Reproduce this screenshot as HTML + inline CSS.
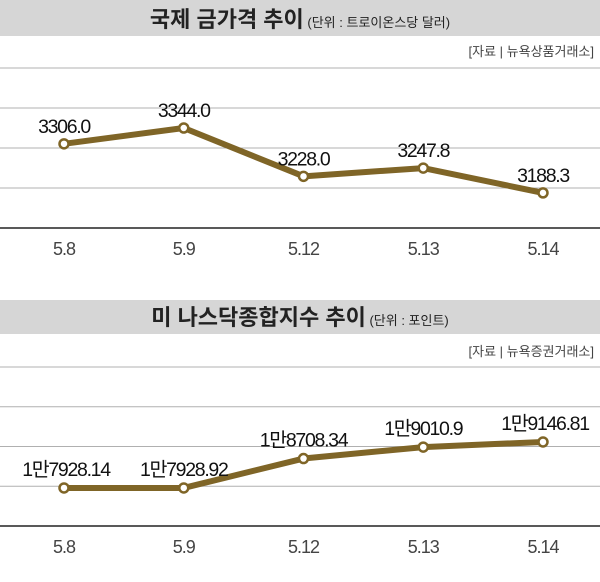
<!DOCTYPE html>
<html><head><meta charset="utf-8">
<style>
body{margin:0;background:#fff;width:600px;height:577px;overflow:hidden;font-family:"Liberation Sans","Noto Sans CJK KR",sans-serif;}
svg text{font-family:"Liberation Sans","Noto Sans CJK KR",sans-serif;}
</style></head><body>
<svg id="c" width="600" height="577"></svg>
<script>
const categories=["5.8","5.9","5.12","5.13","5.14"];
const goldValues=[3306.0,3344.0,3228.0,3247.8,3188.3];
const goldLabels=["3306.0","3344.0","3228.0","3247.8","3188.3"];
const nasdaqValues=[17928.14,17928.92,18708.34,19010.9,19146.81];
const nasdaqLabels=["1만7928.14","1만7928.92","1만8708.34","1만9010.9","1만9146.81"];
const svg=document.getElementById('c');
const NS='http://www.w3.org/2000/svg';
function mk(t,a,p){const e=document.createElementNS(NS,t);for(const k in a)e.setAttribute(k,a[k]);(p||svg).appendChild(e);return e;}
const xs=i=>64+i*119.75;
function panel(o,title,unit,src,vals,labels,dom,name){
  const g=mk('g',{});
  
  
  const band=mk('rect',{x:0,y:o.band0,width:600,height:o.band1-o.band0,fill:'#d6d6d6'},g);
  
  const t=mk('text',{x:300,y:o.band1-9,'text-anchor':'middle','font-size':22,'font-weight':'bold',fill:'#222'},g);
  
  t.textContent=title;
  const ts=document.createElementNS(NS,'tspan');ts.setAttribute('font-size','13');ts.setAttribute('font-weight','normal');ts.textContent=' '+unit;t.appendChild(ts);
  const s=mk('text',{x:594,y:o.src,'text-anchor':'end','font-size':13,fill:'#444'},g);
  
  s.textContent=src;
  const y=v=>o.axis-(v-dom[0])/(dom[1]-dom[0])*(o.axis-o.top);
  for(let k=0;k<4;k++){const gy=o.top+k*(o.axis-o.top)/4;
    const l=mk('line',{x1:0,x2:600,y1:gy,y2:gy,stroke:'#b0b0b0','stroke-width':1},g);
    }
  const ax=mk('line',{x1:0,x2:600,y1:o.axis,y2:o.axis,stroke:'#222','stroke-width':1.5},g);
  
  categories.forEach((c,i)=>{const tx=mk('text',{x:xs(i),y:o.axis+27,'text-anchor':'middle','font-size':18,fill:'#444','letter-spacing':'-1'},g);
    tx.textContent=c;});
  const pts=vals.map((v,i)=>xs(i)+','+y(v)).join(' ');
  const pl=mk('polyline',{points:pts,fill:'none',stroke:'#7f6527','stroke-width':6,'stroke-linejoin':'round'},g);
  
  vals.forEach((v,i)=>{
    const cc=mk('circle',{cx:xs(i),cy:y(v),r:4.5,fill:'#fff',stroke:'#7f6527','stroke-width':2.5},g);
    
    const lb=mk('text',{x:xs(i)+o.lx[i],y:y(v)-o.ly,'text-anchor':'middle','font-size':19.5,fill:'#111','letter-spacing':'-1.3'},g);
    
    lb.textContent=labels[i];});
}
panel({band0:0,band1:36,src:56,top:68,axis:228,lx:[0,0,0,0,0],ly:11},"국제 금가격 추이","(단위 : 트로이온스당 달러)","[자료 | 뉴욕상품거래소]",goldValues,goldLabels,[3104,3488],'gold-price-chart');
panel({band0:300,band1:334,src:356,top:367,axis:526,lx:[2,0,0,0,2],ly:12},"미 나스닥종합지수 추이","(단위 : 포인트)","[자료 | 뉴욕증권거래소]",nasdaqValues,nasdaqLabels,[16921,21133],'nasdaq-chart');
</script>
</body></html>
